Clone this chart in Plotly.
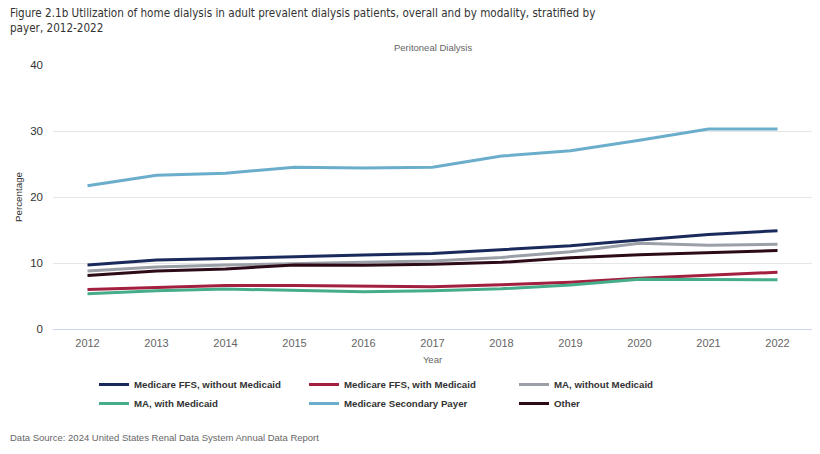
import plotly.graph_objects as go

years = [2012, 2013, 2014, 2015, 2016, 2017, 2018, 2019, 2020, 2021, 2022]

ffs_without = [9.7, 10.45, 10.7, 10.9, 11.2, 11.45, 12.0, 12.6, 13.5, 14.3, 14.9]
ffs_with = [6.0, 6.3, 6.6, 6.6, 6.5, 6.4, 6.7, 7.1, 7.7, 8.1, 8.6]
ma_without = [8.8, 9.4, 9.7, 9.95, 10.1, 10.3, 10.85, 11.7, 13.0, 12.7, 12.85]
ma_with = [5.35, 5.8, 6.05, 5.8, 5.65, 5.8, 6.1, 6.65, 7.55, 7.5, 7.45]
secondary = [21.7, 23.3, 23.6, 24.5, 24.4, 24.5, 26.2, 27.0, 28.6, 30.3, 30.3]
other = [8.1, 8.8, 9.1, 9.7, 9.65, 9.8, 10.1, 10.8, 11.25, 11.55, 11.9]

series = [
    ("Medicare FFS, without Medicaid", ffs_without, "#1b2a5c"),
    ("Medicare FFS, with Medicaid", ffs_with, "#a31f3f"),
    ("MA, without Medicaid", ma_without, "#9b9fa7"),
    ("MA, with Medicaid", ma_with, "#46ad8a"),
    ("Medicare Secondary Payer", secondary, "#6aaecc"),
    ("Other", other, "#2d0a18"),
]

fig = go.Figure()
for name, vals, color in series:
    fig.add_trace(go.Scatter(x=years, y=vals, name=name, mode="lines",
                             line=dict(color=color, width=3)))

font_family = "Liberation Sans, Arial, sans-serif"
narrow_family = "DejaVu Sans Condensed, Liberation Sans Narrow, Arial Narrow, sans-serif"
PW, PH = 759, 264

fig.update_layout(
    width=820, height=454,
    margin=dict(l=53, r=8, t=65, b=125, autoexpand=False),
    paper_bgcolor="white", plot_bgcolor="white",
    font=dict(family=font_family, color="#666666"),
    showlegend=True,
    legend=dict(orientation="h", x=0.054, y=-41 / PH, xanchor="left", yanchor="top",
                entrywidth=165, entrywidthmode="pixels",
                font=dict(size=9.7, color="#333333", family=font_family, weight="bold"),
                tracegroupgap=0, bgcolor="rgba(0,0,0,0)"),
    annotations=[
        dict(text="Figure 2.1b Utilization of home dialysis in adult prevalent dialysis patients, overall and by modality, stratified by<br>payer, 2012-2022",
             xref="paper", yref="paper", x=-45 / PW, y=1 + 61 / PH, xanchor="left", yanchor="top",
             showarrow=False, align="left", font=dict(size=11.6, color="#333333", family=narrow_family)),
        dict(text="Peritoneal Dialysis", xref="paper", yref="paper", x=0.5, y=1 + 17 / PH,
             xanchor="center", yanchor="middle", showarrow=False,
             font=dict(size=9.5, color="#666666", family=font_family)),
        dict(text="Data Source: 2024 United States Renal Data System Annual Data Report",
             xref="paper", yref="paper", x=-45 / PW, y=-108 / PH, xanchor="left", yanchor="middle",
             showarrow=False, font=dict(size=9.5, color="#666666", family=font_family)),
    ],
)
fig.update_xaxes(range=[2011.5, 2022.5], tickmode="array", tickvals=years,
                 ticktext=[str(y) for y in years], showgrid=False, showline=True,
                 linecolor="#ccd6eb", linewidth=1, ticks="", ticklabelstandoff=4,
                 tickfont=dict(size=11, color="#666666"),
                 title=dict(text="Year", font=dict(size=9.5, color="#666666"), standoff=8),
                 zeroline=False)
fig.update_yaxes(range=[0, 40], tickvals=[0, 10, 20, 30, 40], showgrid=True,
                 gridcolor="#e6e6e6", gridwidth=1, zeroline=False, showline=False,
                 tickfont=dict(size=11.5, color="#333333"), ticks="", ticklen=0,
                 ticklabelstandoff=9,
                 title=dict(text="Percentage", font=dict(size=9.8, color="#333333"), standoff=5))

fig.write_html("out.html")
